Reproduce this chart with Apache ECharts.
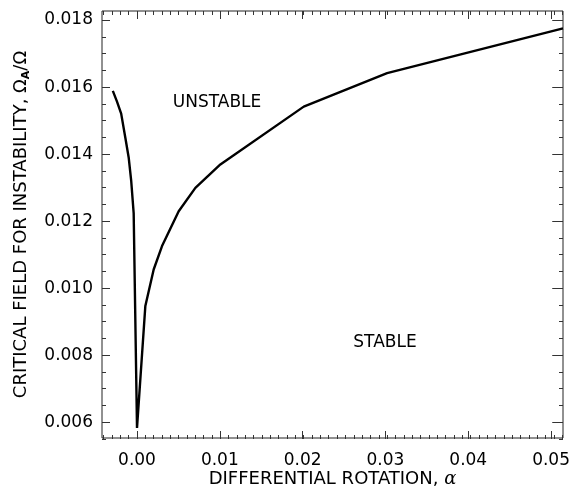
<!DOCTYPE html>
<html>
<head>
<meta charset="utf-8">
<script src="https://cdn.jsdelivr.net/npm/echarts@6/dist/echarts.min.js"></script>
<style>
  html, body { margin: 0; padding: 0; background: #fff; }
  #chart { width: 573px; height: 493px; }
</style>
</head>
<body>
<div id="chart"></div>
<script>
// critical field vs differential rotation
const alphaLeft = [-0.0029, -0.0024, -0.0019, -0.0014, -0.0010, -0.0007, -0.0004, 0.0];
const fieldLeft = [0.01588, 0.01556, 0.01520, 0.01448, 0.01389, 0.01320, 0.01222, 0.00580];
const alphaRight = [0.001, 0.002, 0.003, 0.005, 0.007, 0.010, 0.020, 0.030, 0.0511];
const fieldRight = [0.00945, 0.01054, 0.01124, 0.01228, 0.01298, 0.01368, 0.01541, 0.01641, 0.01775];

const xTicks = [0.00, 0.01, 0.02, 0.03, 0.04, 0.05];
const yTicks = [0.006, 0.008, 0.010, 0.012, 0.014, 0.016, 0.018];
const xRange = [-0.0042, 0.0511];
const yRange = [0.0055, 0.01827];

const FONT = 'DejaVu Sans';
const box = { left: 102, top: 11, right: 563, bottom: 439 };

// pixel helpers so the tick-only grids line up with the data grid
const gx = v => box.left + (v - xRange[0]) / (xRange[1] - xRange[0]) * (box.right - box.left);
const gy = v => box.bottom - (v - yRange[0]) / (yRange[1] - yRange[0]) * (box.bottom - box.top);
const subGrid = (x0, x1, y0, y1) => ({
    left: gx(x0), width: gx(x1) - gx(x0),
    top: gy(y1), height: gy(y0) - gy(y1)
});

const minorX = [-0.004, 0.051];
const minorY = [0.0055, 0.018];
const gMinor = subGrid(minorX[0], minorX[1], minorY[0], minorY[1]);
const gMajor = subGrid(xTicks[0], xTicks[xTicks.length - 1], yTicks[0], yTicks[yTicks.length - 1]);

const curve = alphaLeft.map((a, i) => [a, fieldLeft[i]])
    .concat(alphaRight.map((a, i) => [a, fieldRight[i]]));

const tickStyle = { color: '#333', width: 1 };
const hidden = { show: false };
const noLine = { show: false, onZero: false };

function tickAxis(gridIndex, pos, min, max, interval, len, offset, label) {
    return {
        type: 'value', gridIndex, position: pos, min, max, interval, offset,
        axisLine: noLine, splitLine: hidden,
        axisTick: { show: true, inside: true, length: len, lineStyle: tickStyle },
        axisLabel: label || hidden
    };
}

const chart = echarts.init(document.getElementById('chart'));

const option = {
    animation: false,
    backgroundColor: '#fff',
    grid: [
        { left: box.left, top: box.top, width: box.right - box.left, height: box.bottom - box.top,
          show: true, borderColor: '#222', borderWidth: 1, backgroundColor: 'transparent' },
        Object.assign({ show: false }, gMinor),
        Object.assign({ show: false }, gMajor)
    ],
    xAxis: [
        {
            type: 'value', gridIndex: 0, min: xRange[0], max: xRange[1],
            axisLine: noLine, axisTick: hidden, axisLabel: hidden, splitLine: hidden,
            name: '{t|DIFFERENTIAL ROTATION, }{i|α}',
            nameLocation: 'middle', nameGap: 32,
            nameTextStyle: {
                rich: {
                    t: { fontFamily: FONT, fontSize: 18, color: '#000' },
                    i: { fontFamily: 'DejaVu Serif', fontStyle: 'italic', fontSize: 18, color: '#000' }
                }
            }
        },
        tickAxis(1, 'bottom', minorX[0], minorX[1], 0.001, 4, box.bottom - (gMinor.top + gMinor.height)),
        tickAxis(1, 'top', minorX[0], minorX[1], 0.001, 4, gMinor.top - box.top),
        tickAxis(2, 'bottom', xTicks[0], xTicks[xTicks.length - 1], 0.01, 8,
            box.bottom - (gMajor.top + gMajor.height),
            { show: true, margin: 13, fontFamily: FONT, fontSize: 17, color: '#000',
              formatter: v => v.toFixed(2) }),
        tickAxis(2, 'top', xTicks[0], xTicks[xTicks.length - 1], 0.01, 8, gMajor.top - box.top)
    ],
    yAxis: [
        {
            type: 'value', gridIndex: 0, min: yRange[0], max: yRange[1],
            axisLine: noLine, axisTick: hidden, axisLabel: hidden, splitLine: hidden,
            name: '{t|CRITICAL FIELD FOR INSTABILITY, Ω}{s|A}{t|/Ω}',
            nameLocation: 'middle', nameGap: 70,
            nameTextStyle: {
                rich: {
                    t: { fontFamily: FONT, fontSize: 18, color: '#000', lineHeight: 22 },
                    s: { fontFamily: FONT, fontSize: 11, fontWeight: 'bold', color: '#000',
                         lineHeight: 22, verticalAlign: 'bottom' }
                }
            }
        },
        tickAxis(1, 'left', minorY[0], minorY[1], 0.0005, 4, gMinor.left - box.left),
        tickAxis(1, 'right', minorY[0], minorY[1], 0.0005, 4, box.right - (gMinor.left + gMinor.width)),
        tickAxis(2, 'left', yTicks[0], yTicks[yTicks.length - 1], 0.002, 8, gMajor.left - box.left,
            { show: true, margin: 9, fontFamily: FONT, fontSize: 17, color: '#000',
              formatter: v => v.toFixed(3) }),
        tickAxis(2, 'right', yTicks[0], yTicks[yTicks.length - 1], 0.002, 8,
            box.right - (gMajor.left + gMajor.width))
    ],
    series: [
        {
            type: 'line', xAxisIndex: 0, yAxisIndex: 0,
            data: curve, showSymbol: false, clip: true,
            lineStyle: { color: '#000', width: 2.4 }
        }
    ],
    graphic: [
        { type: 'text', x: 217, y: 103,
          style: { text: 'UNSTABLE', fontFamily: FONT, fontSize: 17, fill: '#000',
                   align: 'center', verticalAlign: 'middle' } },
        { type: 'text', x: 385, y: 343,
          style: { text: 'STABLE', fontFamily: FONT, fontSize: 17, fill: '#000',
                   align: 'center', verticalAlign: 'middle' } }
    ]
};

chart.setOption(option);
</script>
</body>
</html>
